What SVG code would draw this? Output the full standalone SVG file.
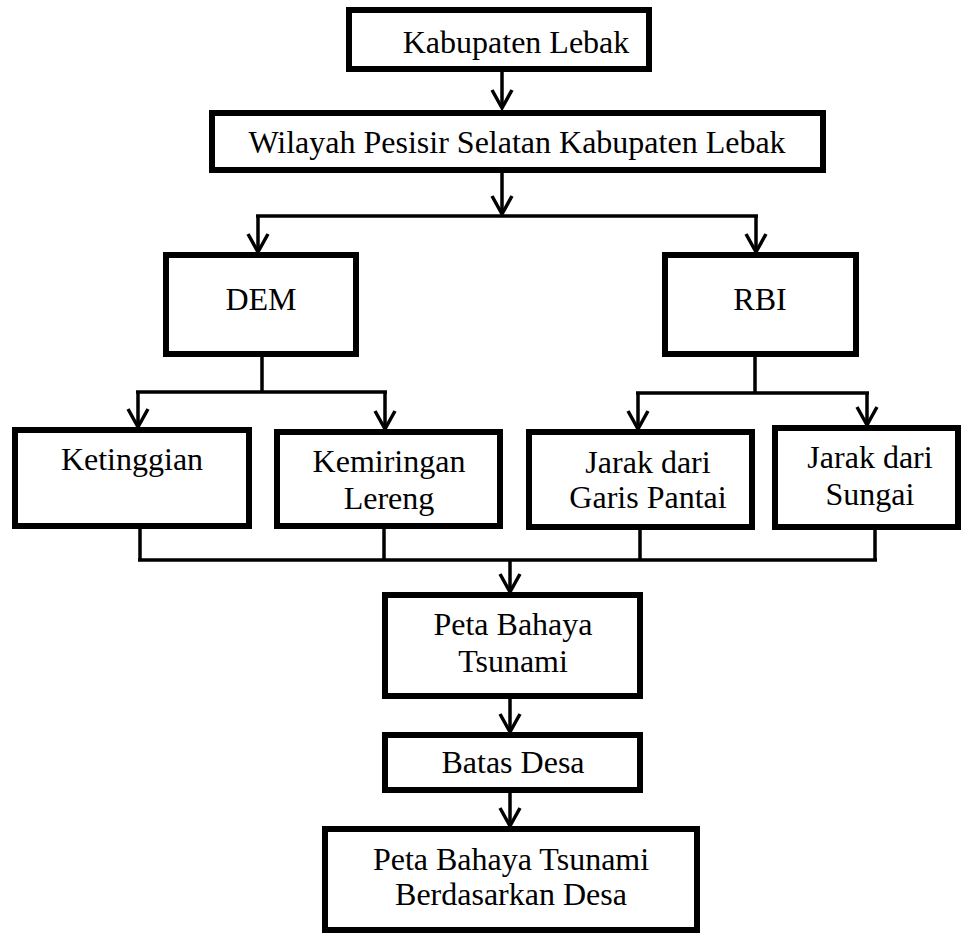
<svg xmlns="http://www.w3.org/2000/svg" width="961" height="934" viewBox="0 0 961 934">
<style>
.box{fill:#fff;stroke:#000;stroke-width:6}
.ln{fill:none;stroke:#000;stroke-width:3.5}
.ah{fill:none;stroke:#000;stroke-width:3.5;stroke-linejoin:miter}
.t{font-family:'Liberation Serif','Times New Roman','DejaVu Serif',serif;font-size:32px;fill:#000;text-anchor:middle}
</style>
<rect width="961" height="934" fill="#fff"/>
<g id="connectors">
<path class="ln" d="M502 72V107"/>
<path class="ah" d="M492 90L502 108L512 90"/>
<path class="ln" d="M502 173V214"/>
<path class="ah" d="M492 196L502 214L512 196"/>
<path class="ln" d="M256 216H758"/>
<path class="ln" d="M258 216V251"/>
<path class="ah" d="M248 234L258 252L268 234"/>
<path class="ln" d="M756 216V251"/>
<path class="ah" d="M746 234L756 252L766 234"/>
<path class="ln" d="M262 357V392M136 392H387M138 392V426M385 392V428"/>
<path class="ah" d="M128 409L138 427L148 409"/>
<path class="ah" d="M375 411L385 429L395 411"/>
<path class="ln" d="M755 357V393M636 393H869M638 393V428M867 393V424"/>
<path class="ah" d="M628 411L638 429L648 411"/>
<path class="ah" d="M857 407L867 425L877 407"/>
<path class="ln" d="M140 529V560M384 529V560M640 530V560M875 530V560M138 560H877"/>
<path class="ln" d="M510 560V591"/>
<path class="ah" d="M500 574L510 592L520 574"/>
<path class="ln" d="M510 699V731"/>
<path class="ah" d="M500 714L510 732L520 714"/>
<path class="ln" d="M510 793V825"/>
<path class="ah" d="M500 808L510 826L520 808"/>
</g>
<g id="kabupaten"><rect class="box" x="349" y="10" width="300" height="59"/><text class="t" x="516" y="53">Kabupaten Lebak</text></g>
<g id="wilayah"><rect class="box" x="212" y="113" width="611" height="57"/><text class="t" x="517" y="153">Wilayah Pesisir Selatan Kabupaten Lebak</text></g>
<g id="dem"><rect class="box" x="166" y="255" width="190" height="99"/><text class="t" x="261" y="310">DEM</text></g>
<g id="rbi"><rect class="box" x="665" y="255" width="191" height="99"/><text class="t" x="760" y="310">RBI</text></g>
<g id="ketinggian"><rect class="box" x="15" y="430" width="234" height="96"/><text class="t" x="132" y="470">Ketinggian</text></g>
<g id="kemiringan"><rect class="box" x="277" y="432" width="223" height="94"/><text class="t" x="389" y="472">Kemiringan</text><text class="t" x="389" y="509">Lereng</text></g>
<g id="garis-pantai"><rect class="box" x="529" y="432" width="223" height="95"/><text class="t" x="648" y="473">Jarak dari</text><text class="t" x="648" y="508">Garis Pantai</text></g>
<g id="sungai"><rect class="box" x="775" y="428" width="183" height="99"/><text class="t" x="870" y="468">Jarak dari</text><text class="t" x="870" y="505">Sungai</text></g>
<g id="peta-bahaya"><rect class="box" x="385" y="595" width="255" height="101"/><text class="t" x="513" y="635">Peta Bahaya</text><text class="t" x="513" y="672">Tsunami</text></g>
<g id="batas-desa"><rect class="box" x="385" y="735" width="255" height="55"/><text class="t" x="513" y="773">Batas Desa</text></g>
<g id="peta-desa"><rect class="box" x="325" y="829" width="372" height="101"/><text class="t" x="511" y="870">Peta Bahaya Tsunami</text><text class="t" x="511" y="905">Berdasarkan Desa</text></g>
</svg>
